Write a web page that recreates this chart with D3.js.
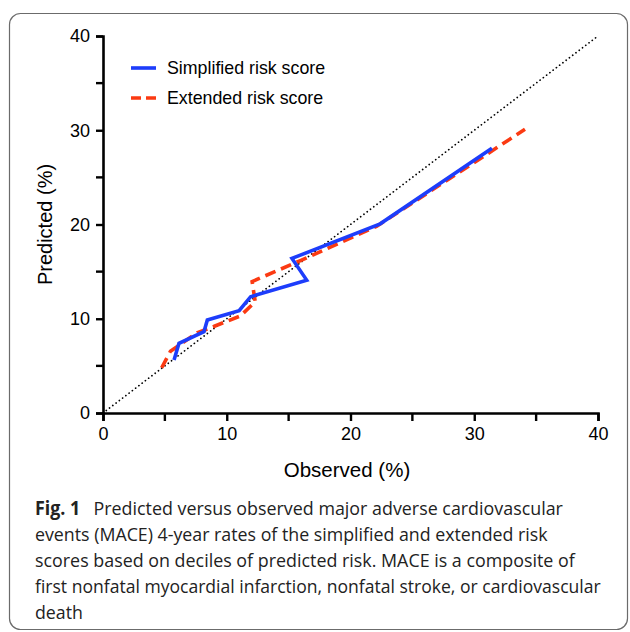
<!DOCTYPE html>
<html>
<head>
<meta charset="utf-8">
<script src="https://cdn.jsdelivr.net/npm/d3@7"></script>
<style>
	body { margin: 0; background: #fff; }
	svg { display: block; }
</style>
</head>
<body>
<svg id="svg1" width="630" height="632"></svg>
<script>
// deciles of predicted risk: observed (%) vs predicted (%)
simplified_observed = [5.74, 6.14, 8.16, 8.43, 11.0, 11.93, 16.46, 15.27, 22.4, 31.43];
simplified_predicted = [5.62, 7.39, 8.63, 9.87, 10.86, 12.34, 14.1, 16.4, 20.07, 28.08];

extended_observed = [4.74, 5.45, 7.6, 9.0, 11.1, 12.3, 12.05, 16.0, 22.1, 34.1];
extended_predicted = [4.8, 6.55, 8.5, 9.2, 10.3, 11.8, 13.95, 16.2, 19.8, 30.1];

series_names = ["Simplified risk score", "Extended risk score"];
x_ticks = [0, 10, 20, 30, 40];
y_ticks = [0, 10, 20, 30, 40];
minor_ticks = [5, 15, 25, 35];

caption_title = "Fig. 1";
caption_lines = [
	"Predicted versus observed major adverse cardiovascular",
	"events (MACE) 4-year rates of the simplified and extended risk",
	"scores based on deciles of predicted risk. MACE is a composite of",
	"first nonfatal myocardial infarction, nonfatal stroke, or cardiovascular",
	"death"
];

settings = {
	left: 103,
	right: 598,
	top: 36,
	bottom: 413,
	blue: "#1d3dfb",
	red: "#fb3a12",
	font: "'Liberation Sans', Arial, sans-serif"
}

svg = d3.select("#svg1");

// figure frame
svg.append("rect")
	.attr("x", 9.5).attr("y", 13.5)
	.attr("width", 618).attr("height", 616)
	.attr("rx", 11)
	.attr("fill", "none")
	.attr("stroke", "#6b6b6b")
	.attr("stroke-width", 1.2);

var x = d3.scaleLinear().domain([0, 40]).range([settings.left, settings.right]);
var y = d3.scaleLinear().domain([0, 40]).range([settings.bottom, settings.top]);

// axes
var xAxis = svg.append("g")
	.attr("transform", "translate(0," + settings.bottom + ")")
	.call(d3.axisBottom(x).tickValues(x_ticks).tickSize(8).tickPadding(6).tickFormat(d3.format("d")));
xAxis.append("g").selectAll("line").data(minor_ticks).enter().append("line")
	.attr("x1", d => x(d)).attr("x2", d => x(d))
	.attr("y1", 0).attr("y2", 8)
	.attr("stroke", "#000").attr("stroke-width", 2.4);

var yAxis = svg.append("g")
	.attr("transform", "translate(" + settings.left + ",0)")
	.call(d3.axisLeft(y).tickValues(y_ticks).tickSize(7).tickPadding(6).tickFormat(d3.format("d")));
yAxis.append("g").selectAll("line").data(minor_ticks).enter().append("line")
	.attr("y1", d => y(d)).attr("y2", d => y(d))
	.attr("x1", 0).attr("x2", -7)
	.attr("stroke", "#000").attr("stroke-width", 2.4);

[xAxis, yAxis].forEach(function(a) {
	a.select(".domain").attr("stroke", "#000").attr("stroke-width", 2.6);
	a.selectAll(".tick line").attr("stroke", "#000").attr("stroke-width", 2.4);
	a.selectAll(".tick text")
		.attr("fill", "#000")
		.style("font-family", settings.font)
		.style("font-size", "18px");
});

svg.append("text")
	.attr("x", 347)
	.attr("y", 477)
	.attr("text-anchor", "middle")
	.style("font-family", settings.font)
	.style("font-size", "20.5px")
	.text("Observed (%)");

svg.append("text")
	.attr("transform", "translate(52," + ((settings.top + settings.bottom) / 2) + ") rotate(-90)")
	.attr("text-anchor", "middle")
	.style("font-family", settings.font)
	.style("font-size", "20px")
	.text("Predicted (%)");

// identity line
svg.append("line")
	.attr("x1", x(0)).attr("y1", y(0))
	.attr("x2", x(40)).attr("y2", y(40))
	.attr("stroke", "#000")
	.attr("stroke-width", 1.7)
	.attr("stroke-linecap", "round")
	.attr("stroke-dasharray", "0.1,4");

var line = d3.line().x(d => x(d[0])).y(d => y(d[1]));

simplified = d3.zip(simplified_observed, simplified_predicted);
extended = d3.zip(extended_observed, extended_predicted);

svg.append("path")
	.datum(extended)
	.attr("d", line)
	.attr("fill", "none")
	.attr("stroke", settings.red)
	.attr("stroke-width", 3.6)
	.attr("stroke-dasharray", "11,6");

svg.append("path")
	.datum(simplified)
	.attr("d", line)
	.attr("fill", "none")
	.attr("stroke", settings.blue)
	.attr("stroke-width", 3.6)
	.attr("stroke-linejoin", "miter");

// legend
legend = svg.append("g");
series_names.forEach(function(name, i) {
	var ly = 68 + i * 30;
	legend.append("line")
		.attr("x1", 131).attr("x2", 156)
		.attr("y1", ly).attr("y2", ly)
		.attr("stroke", i == 0 ? settings.blue : settings.red)
		.attr("stroke-width", 3.6)
		.attr("stroke-dasharray", i == 0 ? null : "10,5");
	legend.append("text")
		.attr("x", 167).attr("y", ly + 6)
		.style("font-family", settings.font)
		.style("font-size", "17.8px")
		.text(name);
});

// caption, squeezed to the narrow face of the original
caption_widths = [528, 513, 540, 566];
caption = svg.append("g")
	.style("font-family", "'Open Sans', sans-serif")
	.style("font-size", "19px")
	.attr("fill", "#222");

var scales = [];
caption_lines.forEach(function(t, i) {
	var txt = caption.append("text").attr("y", 515 + i * 26);
	if (i == 0) {
		txt.append("tspan").style("font-weight", "bold").text(caption_title);
		txt.append("tspan").attr("dx", 14).text(t);
	} else {
		txt.text(t);
	}
	var w = txt.node().getComputedTextLength() + (i == 0 ? 14 : 0);
	var s = caption_widths[i] ? caption_widths[i] / w : d3.mean(scales);
	scales.push(s);
	txt.attr("transform", "translate(35,0) scale(" + s + ",1)");
});
</script>
</body>
</html>
